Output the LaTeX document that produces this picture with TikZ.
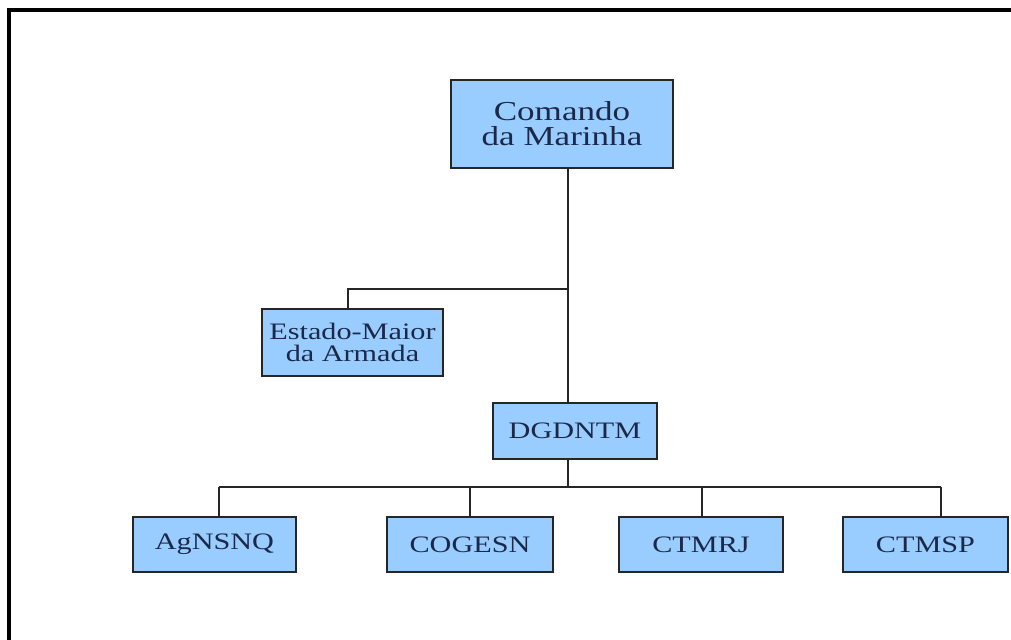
\documentclass[tikz,border=0pt]{standalone}
\usepackage{fontspec}
\setmainfont{Liberation Serif}[FakeStretch=1.28]
\definecolor{boxblue}{RGB}{153,204,255}
\definecolor{boxtext}{RGB}{28,40,72}
\begin{document}
\begin{tikzpicture}[x=0.5pt, y=-0.5pt,
    org/.style={draw=black!85, line width=0.9pt, fill=boxblue, text=boxtext,
      inner sep=0pt, align=center, font=\fontsize{11.8}{11.2}\selectfont},
    wire/.style={draw=black!85, line width=0.8pt}]
        \useasboundingbox (0,0) rectangle (1011,640);
        % Frame (top and left edges only)
        \draw[line width=1.6pt] (1011,10) -- (9,10) -- (9,640);
        % Boxes
        \node[org, minimum width=111pt, minimum height=44pt,
              font=\fontsize{13.7}{12.5}\selectfont] (cmd) at (562,124) {Comando\\da Marinha};
        \node[org, minimum width=90.5pt, minimum height=33.5pt] (ema) at (352.5,342.5) {Estado-Maior\\da Armada};
        \node[org, minimum width=82pt, minimum height=28pt] (dg) at (575,431) {DGDNTM};
        \node[org, minimum width=81.5pt, minimum height=27.5pt] (ag) at (214.5,544.5) {AgNSNQ};
        \node[org, minimum width=83pt, minimum height=27.5pt] (cog) at (470,544.5) {COGESN};
        \node[org, minimum width=82pt, minimum height=27.5pt] (ctr) at (701,544.5) {CTMRJ};
        \node[org, minimum width=82.5pt, minimum height=27.5pt] (cts) at (925.5,544.5) {CTMSP};
        % Connectors
        \coordinate (tr) at (568,289);
        \coordinate (bl) at (219,487);
        \coordinate (br) at (941,487);
        \draw[wire] (cmd.south -| tr) -- (dg.north -| tr);
        \draw[wire] (tr) -| (348,289 |- ema.north);
        \draw[wire] (dg.south -| tr) -- (tr |- bl);
        \draw[wire] (bl) -- (br);
        \foreach \n/\x in {ag/219, cog/470, ctr/702, cts/941}
            \draw[wire] (\x,487) -- (\x,487 |- \n.north);
\end{tikzpicture}
\end{document}
